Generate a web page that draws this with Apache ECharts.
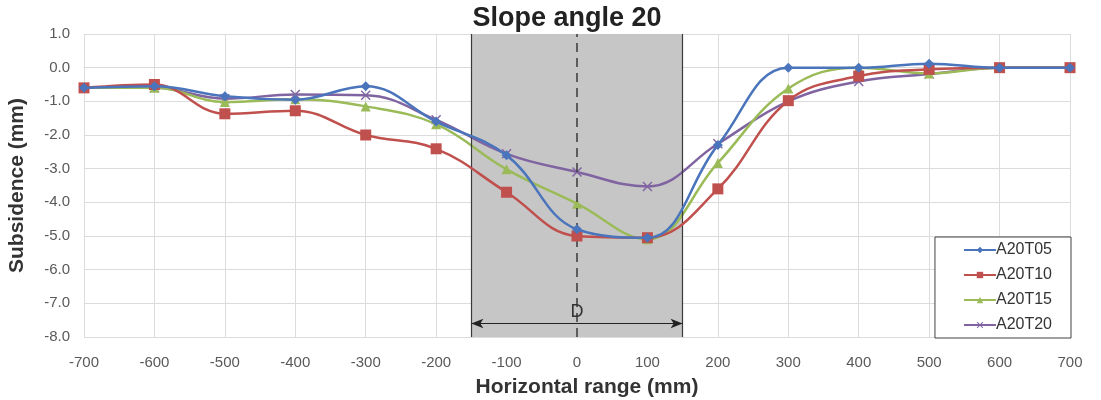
<!DOCTYPE html>
<html>
<head>
<meta charset="utf-8">
<script src="https://cdn.jsdelivr.net/npm/echarts@6/dist/echarts.min.js"></script>
<style>
    html, body { margin: 0; padding: 0; background: #fff; }
    #chart { width: 1101px; height: 400px; }
</style>
</head>
<body>
<div id="chart"></div>
<script>
    // horizontal positions (mm)
    const xPos = [-700, -600, -500, -400, -300, -200, -100, 0, 100, 200, 300, 400, 500, 600, 700];

    const seriesNames = ['A20T05', 'A20T10', 'A20T15', 'A20T20'];
    const a20t05 = [-0.6, -0.55, -0.85, -0.95, -0.55, -1.6, -2.6, -4.8, -5.05, -2.3, 0.0, 0.0, 0.12, 0.0, 0.0];
    const a20t10 = [-0.6, -0.5, -1.37, -1.28, -2.0, -2.41, -3.7, -5.0, -5.05, -3.6, -0.98, -0.25, -0.05, 0.0, 0.0];
    const a20t15 = [-0.6, -0.6, -1.02, -0.94, -1.15, -1.68, -3.02, -4.04, -5.1, -2.83, -0.62, 0.0, -0.17, 0.0, 0.0];
    const a20t20 = [-0.6, -0.6, -0.92, -0.8, -0.82, -1.55, -2.56, -3.1, -3.53, -2.26, -1.0, -0.41, -0.19, 0.0, 0.0];

    // width D of the shaded zone and height of the dimension arrow
    const zoneD = [-150, 150];
    const arrowY = -7.6;

    const colors = ['#4a74bb', '#c0504d', '#9bbb59', '#8064a2'];
    const xMark = 'path://M0,1 L1,0 L5,4 L9,0 L10,1 L6,5 L10,9 L9,10 L5,6 L1,10 L0,9 L4,5 Z';
    const symbols = ['diamond', 'rect', 'triangle', xMark];
    const sizes = [10, 11, 10, 10];

    function pairs(vals) {
        return xPos.map((x, i) => [x, vals[i]]);
    }

    let myChart = echarts.init(document.getElementById('chart'));

    let series = [a20t05, a20t10, a20t15, a20t20].map((vals, i) => ({
        name: seriesNames[i],
        type: 'line',
        smooth: 0.4,
        data: pairs(vals),
        symbol: symbols[i],
        symbolSize: sizes[i],
        color: colors[i],
        lineStyle: { width: 2.5, color: colors[i] },
        itemStyle: { color: colors[i] },
        z: 3 + (3 - i)
    }));

    // shaded zone + dashed centre line + D arrow go on the first series
    series[0].markArea = {
        silent: true,
        itemStyle: { color: '#c6c6c6' },
        data: [[{ xAxis: zoneD[0] }, { xAxis: zoneD[1] }]]
    };
    series[0].markLine = {
        silent: true,
        symbol: 'none',
        animation: false,
        label: { show: false },
        data: [
            { xAxis: zoneD[0], lineStyle: { color: '#3a3a3a', width: 1.2, type: 'solid' } },
            { xAxis: zoneD[1], lineStyle: { color: '#3a3a3a', width: 1.2, type: 'solid' } },
            { xAxis: 0, lineStyle: { color: '#3a3a3a', width: 1.5, type: [9, 6] } },
            [
                { coord: [zoneD[0], arrowY], symbol: 'arrow', symbolSize: [7, 12] },
                {
                    coord: [zoneD[1], arrowY], symbol: 'arrow', symbolSize: [7, 12],
                    lineStyle: { color: '#222', width: 1.2, type: 'solid' },
                    label: {
                        show: true, position: 'middle', formatter: 'D',
                        color: '#333', fontSize: 18, distance: 3,
                        fontFamily: 'Liberation Sans'
                    }
                }
            ]
        ]
    };

    let option = {
        animation: false,
        textStyle: { fontFamily: 'Liberation Sans, Arial, sans-serif' },
        title: {
            text: 'Slope angle 20',
            left: 562,
            textAlign: 'center',
            top: 0,
            textStyle: { fontSize: 27, fontWeight: 'bold', color: '#222' }
        },
        legend: {
            orient: 'vertical',
            right: 30,
            top: 237,
            data: seriesNames,
            itemWidth: 32,
            itemHeight: 8,
            itemGap: 9,
            padding: [5, 19, 5, 28],
            backgroundColor: '#fff',
            borderColor: '#404040',
            borderWidth: 1,
            borderRadius: 0,
            textStyle: { fontSize: 16, color: '#333', padding: [0, 0, 0, -5] }
        },
        grid: { left: 84, right: 31, top: 34, bottom: 63, outerBoundsMode: 'none' },
        xAxis: {
            type: 'value',
            min: -700,
            max: 700,
            interval: 100,
            name: 'Horizontal range (mm)',
            nameLocation: 'middle',
            nameGap: 40,
            nameTextStyle: { fontSize: 21, fontWeight: 'bold', color: '#333', padding: [0, 0, 0, 20] },
            axisLine: { lineStyle: { color: '#d9d9d9' } },
            axisTick: { show: false },
            axisLabel: { fontSize: 15, color: '#595959', margin: 18 },
            splitLine: { lineStyle: { color: '#dcdcdc' } }
        },
        yAxis: {
            type: 'value',
            min: -8,
            max: 1,
            interval: 1,
            name: 'Subsidence (mm)',
            nameLocation: 'middle',
            nameGap: 56,
            nameTextStyle: { fontSize: 21, fontWeight: 'bold', color: '#333' },
            axisLine: { show: true, lineStyle: { color: '#d9d9d9' } },
            axisTick: { show: false },
            axisLabel: {
                fontSize: 15, color: '#595959', margin: 14,
                formatter: v => v.toFixed(1)
            },
            splitLine: { lineStyle: { color: '#dcdcdc' } }
        },
        series: series
    };

    myChart.setOption(option);
</script>
</body>
</html>
